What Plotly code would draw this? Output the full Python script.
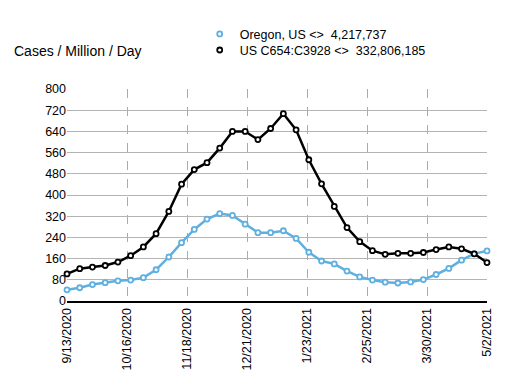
import plotly.graph_objects as go
import pandas as pd

dates = pd.date_range("2020-09-13", periods=34, freq="7D")

us_vals = [102, 122, 128, 134, 147, 171, 204, 254, 338, 441, 496, 522, 577, 640, 640, 609,
           651, 707, 646, 533, 442, 357, 277, 224, 190, 176, 180, 180, 183, 194, 204, 197, 178, 145]
oregon_vals = [42, 50, 62, 69, 76, 79, 88, 118, 166, 220, 270, 309, 330, 323, 290, 258,
               258, 265, 236, 184, 151, 140, 113, 91, 79, 71, 68, 72, 81, 100, 123, 154, 179, 189]

tick_dates = pd.date_range("2020-09-13", periods=8, freq="33D")
tick_labels = [f"{d.month}/{d.day}/{d.year}" for d in tick_dates]
y_ticks = list(range(0, 801, 80))

blue = "rgb(95,175,225)"
black = "black"
font = "Liberation Sans, Arial, sans-serif"

mk = dict(symbol="circle", size=5, color="white")

fig = go.Figure()
fig.add_trace(go.Scatter(x=dates, y=oregon_vals, mode="lines+markers",
                         line=dict(color=blue, width=2.5),
                         marker=dict(**mk, line=dict(color=blue, width=1.8)),
                         cliponaxis=False, showlegend=False))
fig.add_trace(go.Scatter(x=dates, y=us_vals, mode="lines+markers",
                         line=dict(color=black, width=2.5),
                         marker=dict(**mk, line=dict(color=black, width=1.8)),
                         cliponaxis=False, showlegend=False))
# legend-only entries
fig.add_trace(go.Scatter(x=[None], y=[None], mode="markers", name="Oregon, US <>  4,217,737",
                         marker=dict(**mk, line=dict(color=blue, width=1.8)), legend="legend"))
fig.add_trace(go.Scatter(x=[None], y=[None], mode="markers", name="US C654:C3928 <>  332,806,185",
                         marker=dict(**mk, line=dict(color=black, width=1.8)), legend="legend2"))

leg_common = dict(xanchor="left", yanchor="top", font=dict(size=12.5), itemwidth=30,
                  bgcolor="rgba(0,0,0,0)", borderwidth=0)

fig.update_layout(
    template="none",
    width=517, height=382,
    margin=dict(l=59, r=38, t=81, b=89, autoexpand=False),
    paper_bgcolor="white", plot_bgcolor="white",
    font=dict(family=font, size=12, color="black"),
    legend=dict(x=0.316, y=1.329, **leg_common),
    legend2=dict(x=0.316, y=1.253, **leg_common),
    annotations=[dict(text="Cases / Million / Day", x=-0.13, y=1.18, xref="paper", yref="paper",
                      xanchor="left", yanchor="middle", showarrow=False,
                      font=dict(size=14, family=font))],
)
fig.update_xaxes(range=[dates[0], dates[-1]], tickvals=tick_dates, ticktext=tick_labels,
                 tickangle=-90, showgrid=True, gridcolor="rgb(170,170,170)", griddash="dash",
                 gridwidth=1, showline=True, linecolor="black", linewidth=2,
                 ticks="", tickfont=dict(size=12.5), zeroline=False, automargin=False)
fig.update_yaxes(range=[0, 800], tickvals=y_ticks, showgrid=True, gridcolor="rgb(180,180,180)",
                 gridwidth=1, ticks="", tickfont=dict(size=12.5), zeroline=False,
                 showline=False, automargin=False)

fig.write_html("out.html")
